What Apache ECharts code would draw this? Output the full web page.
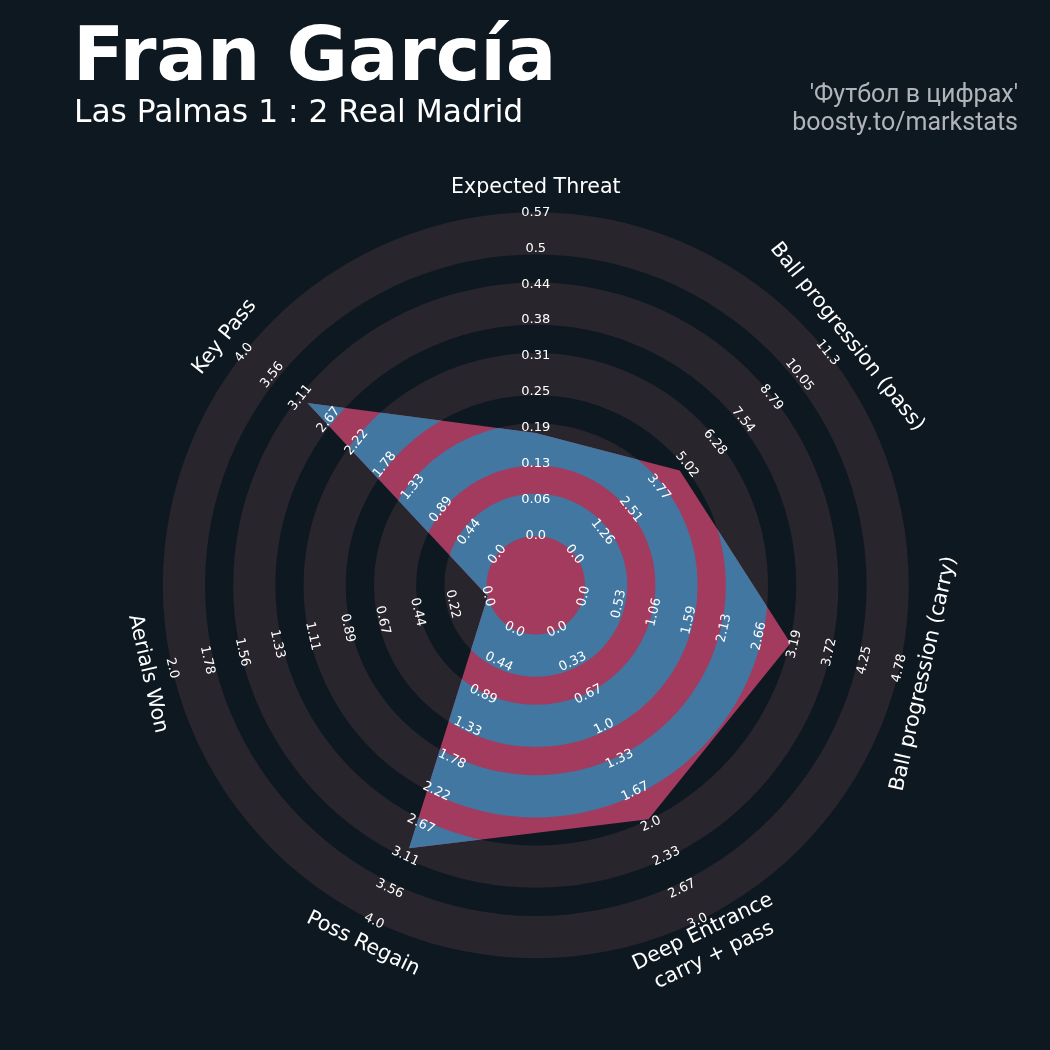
<!DOCTYPE html>
<html>
<head>
<meta charset="utf-8">
<script src="https://cdn.jsdelivr.net/npm/echarts@6/dist/echarts.min.js"></script>
<style>
  html, body { margin: 0; padding: 0; background: #0e1821; }
  #chart { width: 1050px; height: 1050px; }
</style>
</head>
<body>
<div id="chart"></div>
<script>
// parameters, clockwise from the top
const PARAMS = ['Expected Threat', 'Ball progression (pass)', 'Ball progression (carry)',
  'Deep Entrance\ncarry + pass', 'Poss Regain', 'Aerials Won', 'Key Pass'];
const VALUES = [0.18, 4.71, 3.13, 1.95, 3.0, 0, 3.0];
const MIN_RANGE = [0, 0, 0, 0, 0, 0, 0];
const MAX_RANGE = [0.566, 11.31, 4.78, 3.0, 4.0, 2.0, 4.0];

// tick labels along each axis
const TICKS_XT = ['0.0', '0.06', '0.13', '0.19', '0.25', '0.31', '0.38', '0.44', '0.5', '0.57'];
const TICKS_PASS = ['0.0', '1.26', '2.51', '3.77', '5.02', '6.28', '7.54', '8.79', '10.05', '11.3'];
const TICKS_CARRY = ['0.0', '0.53', '1.06', '1.59', '2.13', '2.66', '3.19', '3.72', '4.25', '4.78'];
const TICKS_DEEP = ['0.0', '0.33', '0.67', '1.0', '1.33', '1.67', '2.0', '2.33', '2.67', '3.0'];
const TICKS_REGAIN = ['0.0', '0.44', '0.89', '1.33', '1.78', '2.22', '2.67', '3.11', '3.56', '4.0'];
const TICKS_AERIAL = ['0.0', '0.22', '0.44', '0.67', '0.89', '1.11', '1.33', '1.56', '1.78', '2.0'];
const TICKS_KEYPASS = ['0.0', '0.44', '0.89', '1.33', '1.78', '2.22', '2.67', '3.11', '3.56', '4.0'];
const TICK_LABELS = [TICKS_XT, TICKS_PASS, TICKS_CARRY, TICKS_DEEP, TICKS_REGAIN, TICKS_AERIAL, TICKS_KEYPASS];

// ring layout (radius units)
const CENTER_R = 1.75;
const RING_W = 1.5;
const GAP_W = 1;
const NUM_RINGS = 5;
const OUTER_R = CENTER_R + NUM_RINGS * RING_W + (NUM_RINGS - 1) * GAP_W;
const PARAM_R = 14.14;

const BG = '#0e1821';
const RING_GRAY = '#28252c';
const BLUE = '#4177a0';
const RED = '#a33b5f';

const N = PARAMS.length;
const bands = [];
for (let i = 0; i < NUM_RINGS; i++) {
  const start = CENTER_R + i * (RING_W + GAP_W);
  bands.push([start, start + RING_W]);
}

const angleOf = i => i * 360 / N;
const toUnits = (v, i) => CENTER_R + (v - MIN_RANGE[i]) / (MAX_RANGE[i] - MIN_RANGE[i]) * (OUTER_R - CENTER_R);

// text rotation, kept readable
function textRot(i) {
  let rot = -angleOf(i);
  while (rot <= -90) rot += 180;
  while (rot > 90) rot -= 180;
  return rot * Math.PI / 180;
}

function pxRadius(api, r) {
  const c = api.coord([0, 0]);
  const p = api.coord([r, 0]);
  return Math.hypot(p[0] - c[0], p[1] - c[1]);
}

const tickItems = [];
TICK_LABELS.forEach((labels, i) => {
  labels.forEach((t, k) => {
    tickItems.push([CENTER_R + k / (labels.length - 1) * (OUTER_R - CENTER_R), angleOf(i), i, k]);
  });
});

const chart = echarts.init(document.getElementById('chart'));

const option = {
  backgroundColor: BG,
  animation: false,
  title: [
    {
      text: 'Fran García', left: 73, top: 23, padding: 0,
      textStyle: { color: '#ffffff', fontFamily: 'DejaVu Sans', fontWeight: 'bold', fontSize: 75, lineHeight: 75 }
    },
    {
      text: 'Las Palmas 1 : 2 Real Madrid', left: 74, top: 98, padding: 0,
      textStyle: { color: '#ffffff', fontFamily: 'DejaVu Sans', fontWeight: 'normal', fontSize: 31.3, lineHeight: 31 }
    },
    {
      text: "'Футбол в цифрах'", right: 32, top: 83, padding: 0,
      textStyle: { color: '#b1b4b9', fontFamily: 'Roboto', fontWeight: 'normal', fontSize: 25, lineHeight: 26 }
    },
    {
      text: 'boosty.to/markstats', right: 32, top: 111, padding: 0,
      textStyle: { color: '#b1b4b9', fontFamily: 'Roboto', fontWeight: 'normal', fontSize: 25, lineHeight: 26 }
    }
  ],
  polar: { center: [535.8, 585.2], radius: 373 },
  angleAxis: {
    type: 'value', min: 0, max: 360, startAngle: 90, clockwise: true,
    axisLine: { show: false }, axisTick: { show: false }, axisLabel: { show: false }, splitLine: { show: false }
  },
  radiusAxis: {
    type: 'value', min: 0, max: OUTER_R,
    axisLine: { show: false }, axisTick: { show: false }, axisLabel: { show: false }, splitLine: { show: false }
  },
  series: [
    {
      // background rings
      type: 'custom', coordinateSystem: 'polar', silent: true, z: 1,
      data: bands,
      renderItem: (params, api) => {
        const c = api.coord([0, 0]);
        return {
          type: 'ring',
          shape: { cx: c[0], cy: c[1], r0: pxRadius(api, api.value(0)), r: pxRadius(api, api.value(1)) },
          style: { fill: RING_GRAY }
        };
      }
    },
    {
      // player polygon, blue inside rings and red between them
      type: 'custom', coordinateSystem: 'polar', silent: true, z: 2,
      data: [[0, 0]],
      renderItem: (params, api) => {
        const c = api.coord([0, 0]);
        const pts = VALUES.map((v, i) => api.coord([toUnits(v, i), angleOf(i)]));
        const children = [{ type: 'polygon', shape: { points: pts }, style: { fill: RED } }];
        bands.forEach(b => {
          children.push({
            type: 'polygon',
            shape: { points: pts },
            style: { fill: BLUE },
            clipPath: { type: 'ring', shape: { cx: c[0], cy: c[1], r0: pxRadius(api, b[0]), r: pxRadius(api, b[1]) } }
          });
        });
        return { type: 'group', children };
      }
    },
    {
      // tick labels
      type: 'custom', coordinateSystem: 'polar', silent: true, z: 3,
      data: tickItems,
      renderItem: (params, api) => {
        const p = api.coord([api.value(0), api.value(1)]);
        const i = api.value(2), k = api.value(3);
        return {
          type: 'text', x: p[0], y: p[1], rotation: textRot(i),
          style: { text: TICK_LABELS[i][k], fill: '#ffffff', font: '13px "DejaVu Sans"', align: 'center', verticalAlign: 'middle' }
        };
      }
    },
    {
      // parameter names
      type: 'custom', coordinateSystem: 'polar', silent: true, z: 3,
      data: PARAMS.map((p, i) => [PARAM_R, angleOf(i), i]),
      renderItem: (params, api) => {
        const p = api.coord([api.value(0), api.value(1)]);
        const i = api.value(2);
        return {
          type: 'text', x: p[0], y: p[1], rotation: textRot(i),
          style: { text: PARAMS[i], fill: '#ffffff', font: '20.6px "DejaVu Sans"', align: 'center', verticalAlign: 'middle', lineHeight: 26 }
        };
      }
    }
  ]
};

chart.setOption(option);
</script>
</body>
</html>
